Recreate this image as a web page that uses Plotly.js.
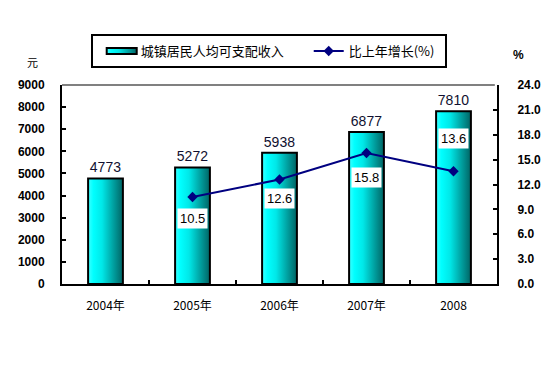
<!DOCTYPE html>
<html><head><meta charset="utf-8">
<script src="https://cdn.plot.ly/plotly-3.0.1.min.js"></script>
<style>body{margin:0;background:#fff}#chart{width:559px;height:366px}</style>
</head><body><div id="chart"></div>
<script>
const categories = ["2004年", "2005年", "2006年", "2007年", "2008"];
const income = [4773, 5272, 5938, 6877, 7810];
const growthCats = ["2005年", "2006年", "2007年", "2008"];
const growth = [10.5, 12.6, 15.8, 13.6];
const incomeName = "城镇居民人均可支配收入";
const growthName = "比上年增长(%)";
const leftTicks = [0,1000,2000,3000,4000,5000,6000,7000,8000,9000];
const rightTicks = [0,3,6,9,12,15,18,21,24];
// label pixel offsets (style only)
const labelShift = [-22, -19, -25, 33];

const tickFont = {family: "Arial, Liberation Sans", size: 12, color: "#000", weight: 700};

const traces = [
  {type: "bar", x: categories, y: income, name: incomeName,
   text: income.map(String), textposition: "outside",
   textfont: {family: "Arial, Liberation Sans", size: 14, color: "#101030"},
   cliponaxis: false,
   marker: {color: "#00cccc", line: {color: "#000", width: 2}},
   width: 0.4},
  {type: "scatter", mode: "lines+markers", x: growthCats, y: growth, yaxis: "y2", name: growthName,
   line: {color: "#000080", width: 2}, marker: {symbol: "diamond", size: 8, color: "#000080"}}
];

const annotations = growth.map((v, i) => ({
  x: categories.indexOf(growthCats[i]), y: v, xref: "x", yref: "y2", text: v.toFixed(1), showarrow: false,
  yshift: labelShift[i], bgcolor: "#fff", borderpad: 2,
  font: {family: "Arial, Liberation Sans", size: 13, color: "#000"}
}));
annotations.push({xref: "paper", yref: "paper", x: -0.067, y: 1.116, xanchor: "center", yanchor: "middle",
  text: "元", showarrow: false, font: {family: "Noto Sans CJK SC", size: 11, color: "#000"}});
annotations.push({xref: "paper", yref: "paper", x: 1.05, y: 1.15, xanchor: "center", yanchor: "middle",
  text: "%", showarrow: false, font: {family: "Arial, Liberation Sans", size: 12, color: "#000", weight: 700}});

const layout = {
  width: 559, height: 366,
  margin: {l: 62, r: 62, t: 85, b: 82},
  paper_bgcolor: "#fff", plot_bgcolor: "#fff",
  showlegend: true,
  legend: {orientation: "h", x: 0.066, y: 1.256, xanchor: "left", yanchor: "top",
    bordercolor: "#000", borderwidth: 2, bgcolor: "#fff",
    font: {family: "Noto Sans CJK SC", size: 13, color: "#000"},
    itemwidth: 30, tracegroupgap: 0},
  bargap: 0.6,
  xaxis: {type: "category", categoryorder: "array", categoryarray: categories, range: [-0.5, 4.5],
    automargin: false, tickangle: 0,
    showline: true, linecolor: "#000", linewidth: 2,
    ticks: "inside", tickson: "boundaries", ticklen: 4, tickcolor: "#000", tickwidth: 2,
    showgrid: false, ticklabelstandoff: 10,
    tickfont: {family: "Noto Sans CJK SC, DejaVu Sans", size: 12, color: "#000"}},
  yaxis: {range: [0, 9000], tickvals: leftTicks, showline: true, linecolor: "#000", linewidth: 2,
    ticks: "inside", ticklen: 4, tickcolor: "#000", tickwidth: 2, showgrid: false, zeroline: false,
    tickfont: tickFont, ticklabelstandoff: 13, automargin: false},
  yaxis2: {range: [0, 24], tickvals: rightTicks, tickformat: ".1f", overlaying: "y", side: "right",
    showline: true, linecolor: "#000", linewidth: 2, ticks: "inside", ticklen: 4, tickcolor: "#000",
    tickwidth: 2, showgrid: false, zeroline: false, tickfont: tickFont, ticklabelstandoff: 16, automargin: false},
  shapes: [{type: "line", xref: "paper", yref: "paper", x0: 0, x1: 0.995, y0: 1, y1: 1,
    line: {color: "#808080", width: 2}}],
  annotations: annotations
};

Plotly.newPlot("chart", traces, layout, {staticPlot: true}).then(function(gd){
  const ns = "http://www.w3.org/2000/svg";
  const defs = gd.querySelector(".main-svg defs");
  const g = document.createElementNS(ns, "linearGradient");
  g.setAttribute("id", "bargrad");
  g.setAttribute("x1", "0"); g.setAttribute("x2", "1"); g.setAttribute("y1", "0"); g.setAttribute("y2", "0");
  [["0", "#40ffff"], ["0.15", "#00ffff"], ["0.4", "#00e8e8"], ["1", "#006464"]].forEach(function(s){
    const st = document.createElementNS(ns, "stop");
    st.setAttribute("offset", s[0]); st.setAttribute("stop-color", s[1]);
    g.appendChild(st);
  });
  defs.appendChild(g);
  gd.querySelectorAll(".bars .point path").forEach(function(p){ p.style.fill = "url(#bargrad)"; });
  const items = gd.querySelectorAll(".legend .traces");
  if (items[0]) items[0].querySelectorAll(".legendpoints path").forEach(function(p){
    p.style.fill = "url(#bargrad)";
    p.setAttribute("d", "M-14,-3h30v6h-30z");
    p.style.strokeWidth = "2px";
  });
  // spread the legend entries a little (Excel-style spacing)
  const shifts = [8, 28];
  items.forEach(function(it, i){
    const t = it.getAttribute("transform") || "";
    const m = t.match(/translate\(\s*([-\d.]+)[ ,]+([-\d.]+)\s*\)/);
    if (m) it.setAttribute("transform", "translate(" + (parseFloat(m[1]) + shifts[i]) + "," + m[2] + ")");
  });
  gd.querySelectorAll(".legend .scrollbox, .legend [clip-path]").forEach(function(el){ el.removeAttribute("clip-path"); });
  const bg = gd.querySelector(".legend rect.bg");
  if (bg) bg.setAttribute("width", parseFloat(bg.getAttribute("width")) + 33);
});
</script></body></html>
